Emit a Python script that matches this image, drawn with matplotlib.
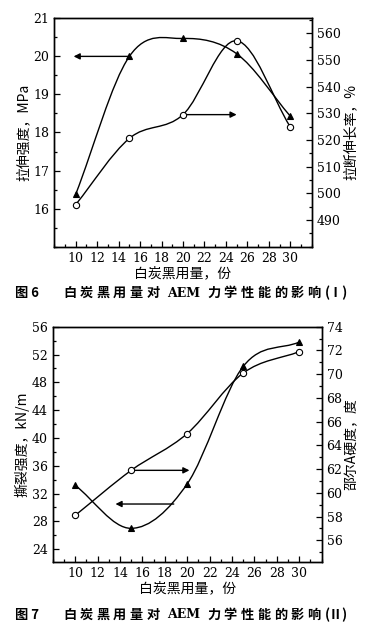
import numpy as np
import matplotlib.pyplot as plt
from matplotlib.path import Path
from matplotlib.patches import PathPatch
from matplotlib.ticker import MultipleLocator

plt.rcParams['font.family'] = ['DejaVu Serif', 'Noto Sans CJK SC']
plt.rcParams['font.size'] = 9

# silica dosage, phr
dosage = [10, 15, 20, 25, 30]

# Fig 6
tensile = [16.38, 20.0, 20.47, 20.07, 18.43]        # MPa
elongation = [495.8, 520.6, 529.5, 557.2, 524.9]    # %

# Fig 7
tear = [33.2, 27.0, 33.4, 50.3, 53.8]               # kN/m
hardness = [58.1, 61.9, 65.0, 70.1, 71.9]           # Shore A

CJK = ['Noto Sans CJK SC', 'DejaVu Serif']
W, H = 372, 632


def smooth_path(x, y):
    # Catmull-Rom curve through the points, as cubic Bezier segments
    x = np.asarray(x, float)
    y = np.asarray(y, float)
    n = len(x)
    m = []
    for i in range(n):
        a = max(i - 1, 0)
        b = min(i + 1, n - 1)
        m.append(((x[b] - x[a]) / (b - a), (y[b] - y[a]) / (b - a)))
    verts = [(x[0], y[0])]
    codes = [Path.MOVETO]
    for i in range(n - 1):
        verts += [(x[i] + m[i][0] / 3, y[i] + m[i][1] / 3),
                  (x[i + 1] - m[i + 1][0] / 3, y[i + 1] - m[i + 1][1] / 3),
                  (x[i + 1], y[i + 1])]
        codes += [Path.CURVE4] * 3
    return Path(verts, codes)


def draw_series(ax, x, y, marker, face):
    ax.add_patch(PathPatch(smooth_path(x, y), fill=False, lw=1.0, ec='black'))
    ax.plot(x, y, linestyle='none', marker=marker, ms=5 if marker == '^' else 4.5,
            mfc=face, mec='black', mew=0.8, zorder=5)


def style(ax):
    ax.tick_params(which='both', direction='in', width=0.9)
    ax.tick_params(which='major', length=4)
    ax.tick_params(which='minor', length=2)
    for s in ax.spines.values():
        s.set_linewidth(1.0)


def arrow(ax, x0, y0, x1, y1):
    ax.annotate('', xy=(x1, y1), xytext=(x0, y0),
                arrowprops=dict(arrowstyle='-|>', lw=1.0, color='black',
                                mutation_scale=9, shrinkA=0, shrinkB=0))


def caption(fig, y, num, roman):
    # letter-spaced bold caption, x in pixels
    kw = dict(family=CJK, fontweight='bold', fontsize=9.5, va='center')
    fig.text(15 / W, y, '图 ' + num, **kw)
    for i, ch in enumerate('白炭黑用量对'):
        fig.text((63 + i * 16.7) / W, y, ch, **kw)
    fig.text(167 / W, y, 'AEM', family='DejaVu Serif', fontweight='bold',
             fontsize=9, va='center')
    for i, ch in enumerate('力学性能的影响'):
        fig.text((207 + i * 16.7) / W, y, ch, **kw)
    fig.text(325 / W, y, '(' + roman + ')', **kw)


fig = plt.figure(figsize=(3.72, 6.32), dpi=100)

# ---- Fig 6
ax1 = fig.add_axes([0.1460, 0.6097, 0.6919, 0.3613])
ax2 = ax1.twinx()
ax1.set_xlim(8, 32)
ax1.set_ylim(15, 21)
ax2.set_ylim(480, 565.6)
ax1.set_xticks(np.arange(10, 31, 2))
ax1.xaxis.set_minor_locator(MultipleLocator(1))
ax1.set_yticks(np.arange(16, 22, 1))
ax1.yaxis.set_minor_locator(MultipleLocator(0.5))
ax2.set_yticks(np.arange(490, 561, 10))
ax2.yaxis.set_minor_locator(MultipleLocator(5))
style(ax1)
style(ax2)
draw_series(ax1, dosage, tensile, '^', 'black')
draw_series(ax2, dosage, elongation, 'o', 'white')
arrow(ax1, 15, 20.0, 9.8, 20.0)
arrow(ax2, 20, 529.5, 25.0, 529.5)
ax1.set_xlabel('白炭黑用量，份', family=CJK, fontsize=10, labelpad=1)
ax1.set_ylabel('拉伸强度，MPa', family=CJK, fontsize=10, labelpad=2)
ax2.set_ylabel('拉断伸长率，%', family=CJK, fontsize=10, rotation=90, labelpad=2)
caption(fig, 0.536, '6', 'Ⅰ')

# ---- Fig 7
ax3 = fig.add_axes([0.1417, 0.1112, 0.7231, 0.3718])
ax4 = ax3.twinx()
ax3.set_xlim(8, 32)
ax3.set_ylim(22.2, 56)
ax4.set_ylim(54.2, 74)
ax3.set_xticks(np.arange(10, 31, 2))
ax3.xaxis.set_minor_locator(MultipleLocator(1))
ax3.set_yticks(np.arange(24, 57, 4))
ax3.yaxis.set_minor_locator(MultipleLocator(2))
ax4.set_yticks(np.arange(56, 75, 2))
ax4.yaxis.set_minor_locator(MultipleLocator(1))
style(ax3)
style(ax4)
draw_series(ax3, dosage, tear, '^', 'black')
draw_series(ax4, dosage, hardness, 'o', 'white')
arrow(ax3, 18.8, 30.5, 13.6, 30.5)
arrow(ax4, 15, 61.9, 20.2, 61.9)
ax3.set_xlabel('白炭黑用量，份', family=CJK, fontsize=10, labelpad=1)
ax3.set_ylabel('撕裂强度，kN/m', family=CJK, fontsize=10, labelpad=2)
ax4.set_ylabel('邵尔A硬度，度', family=CJK, fontsize=10, rotation=90, labelpad=2)
caption(fig, 0.027, '7', 'Ⅱ')

fig.savefig('out.png', dpi=100)
